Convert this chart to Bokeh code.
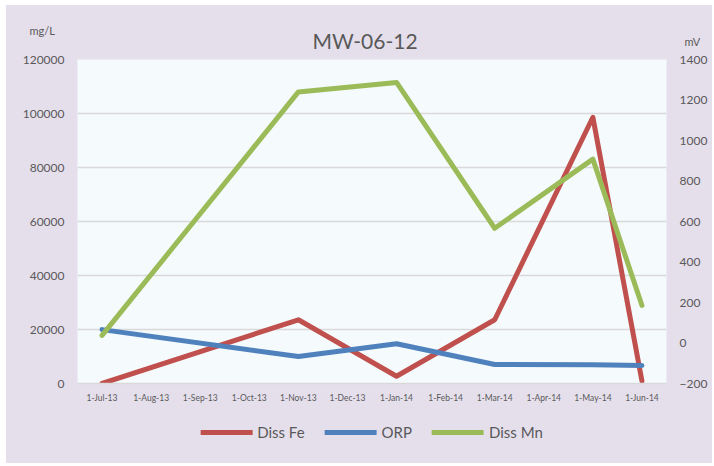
from bokeh.plotting import figure
from bokeh.layouts import column
from bokeh.models import (Range1d, LinearAxis, FixedTicker, NumeralTickFormatter,
                          Label, Legend, LegendItem, FactorRange)
from bokeh.embed import file_html
from bokeh.resources import INLINE

months = ["1-Jul-13", "1-Aug-13", "1-Sep-13", "1-Oct-13", "1-Nov-13", "1-Dec-13",
          "1-Jan-14", "1-Feb-14", "1-Mar-14", "1-Apr-14", "1-May-14", "1-Jun-14"]

fe_dates = ["1-Jul-13", "1-Nov-13", "1-Jan-14", "1-Mar-14", "1-May-14", "1-Jun-14"]
fe_vals = [0, 23600, 2700, 23600, 98600, 900]

orp_dates = ["1-Jul-13", "1-Nov-13", "1-Jan-14", "1-Mar-14", "1-May-14", "1-Jun-14"]
orp_vals = [66, -67, -4, -106, -108, -111]

mn_dates = ["1-Jul-13", "1-Nov-13", "1-Jan-14", "1-Mar-14", "1-May-14", "1-Jun-14"]
mn_vals = [17800, 108000, 111500, 57500, 83100, 28900]

left_ticks = [0, 20000, 40000, 60000, 80000, 100000, 120000]
right_ticks = [-200, 0, 200, 400, 600, 800, 1000, 1200, 1400]

series_names = ["Diss Fe", "ORP", "Diss Mn"]
series_colors = ["#C0504D", "#4F81BD", "#9BBB59"]

FONT = "Lato"
TXT = "#595959"
BG = "#E5DFEC"

p = figure(frame_width=589, frame_height=324, x_range=FactorRange(*months),
           y_range=Range1d(0, 120000), output_backend="svg", toolbar_location=None,
           min_border_left=71, min_border_right=46, min_border_top=54,
           min_border_bottom=26)
p.border_fill_color = BG
p.background_fill_color = "#F5FAFC"
p.outline_line_color = None
p.extra_y_ranges = {"mv": Range1d(-200, 1400)}

p.xgrid.grid_line_color = None
p.ygrid.grid_line_color = "#D9D9D9"
p.ygrid.grid_line_width = 1.5
p.ygrid.ticker = FixedTicker(ticks=left_ticks)

ya = p.yaxis[0]
ya.ticker = FixedTicker(ticks=left_ticks)
ya.formatter = NumeralTickFormatter(format="0")
ya.axis_line_color = None
ya.major_tick_line_color = None
ya.minor_tick_line_color = None
ya.major_tick_out = 0
ya.minor_tick_out = 0
ya.major_label_standoff = 13
ya.major_label_text_font = FONT
ya.major_label_text_font_size = "12px"
ya.major_label_text_color = TXT

ra = LinearAxis(y_range_name="mv", ticker=FixedTicker(ticks=right_ticks))
ra.axis_line_color = None
ra.major_tick_line_color = None
ra.minor_tick_line_color = None
ra.major_tick_out = 0
ra.minor_tick_out = 0
ra.major_label_standoff = 13
ra.major_label_text_font = FONT
ra.major_label_text_font_size = "12px"
ra.major_label_text_color = TXT
p.add_layout(ra, "right")

xa = p.xaxis[0]
xa.axis_line_color = "#D9D9D9"
xa.axis_line_width = 1.5
xa.major_tick_line_color = None
xa.minor_tick_line_color = None
xa.major_tick_out = 0
xa.minor_tick_out = 0
xa.major_label_standoff = 9
xa.major_label_text_font = FONT
xa.major_label_text_font_size = "8.5px"
xa.major_label_text_color = TXT

line_kw = dict(line_width=5, line_cap="round", line_join="round")
p.line(fe_dates, fe_vals, line_color=series_colors[0], **line_kw)
p.line(orp_dates, orp_vals, line_color=series_colors[1], y_range_name="mv", **line_kw)
p.line(mn_dates, mn_vals, line_color=series_colors[2], **line_kw)

p.add_layout(Label(x=287.5, y=19, x_units="screen", y_units="screen", text="MW-06-12",
                   text_font=FONT, text_font_size="21px", text_color=TXT,
                   text_align="center", text_baseline="alphabetic"), "above")
p.add_layout(Label(x=-48, y=4, x_units="screen", y_units="screen", text="mg/L",
                   text_font=FONT, text_font_size="11px", text_color=TXT,
                   text_align="left", text_baseline="alphabetic"), "above")
p.add_layout(Label(x=607, y=-20, x_units="screen", y_units="screen", text="mV",
                   text_font=FONT, text_font_size="11px", text_color=TXT,
                   text_align="left", text_baseline="alphabetic"), "above")

# legend strip below the chart (its lines lie outside its visible range)
lf = figure(width=706, height=54, x_range=FactorRange(*months),
            y_range=Range1d(-2000000, -1000000),
            x_axis_location=None, y_axis_location=None, output_backend="svg",
            toolbar_location=None, min_border_left=19, min_border_right=0,
            min_border_top=0, min_border_bottom=0)
lf.border_fill_color = BG
lf.background_fill_alpha = 0
lf.outline_line_color = None
lf.grid.visible = False
items = []
for name, col, xs, ys in zip(series_names, series_colors,
                             [fe_dates, orp_dates, mn_dates],
                             [fe_vals, orp_vals, mn_vals]):
    r = lf.line(xs, ys, line_color=col, **line_kw)
    items.append(LegendItem(label=name, renderers=[r]))
legend = Legend(items=items, orientation="horizontal", location="top_center",
                background_fill_alpha=0, border_line_color=None,
                label_text_font=FONT, label_text_font_size="15px",
                label_text_color=TXT, glyph_width=52, glyph_height=20,
                label_height=20, label_standoff=5, padding=0,
                spacing=20, margin=13)
lf.add_layout(legend)

layout = column(p, lf, spacing=0)
layout.margin = (5, 0, 0, 6)
layout.styles = {"background-color": BG}

open("out.html", "w").write(file_html(layout, INLINE))
